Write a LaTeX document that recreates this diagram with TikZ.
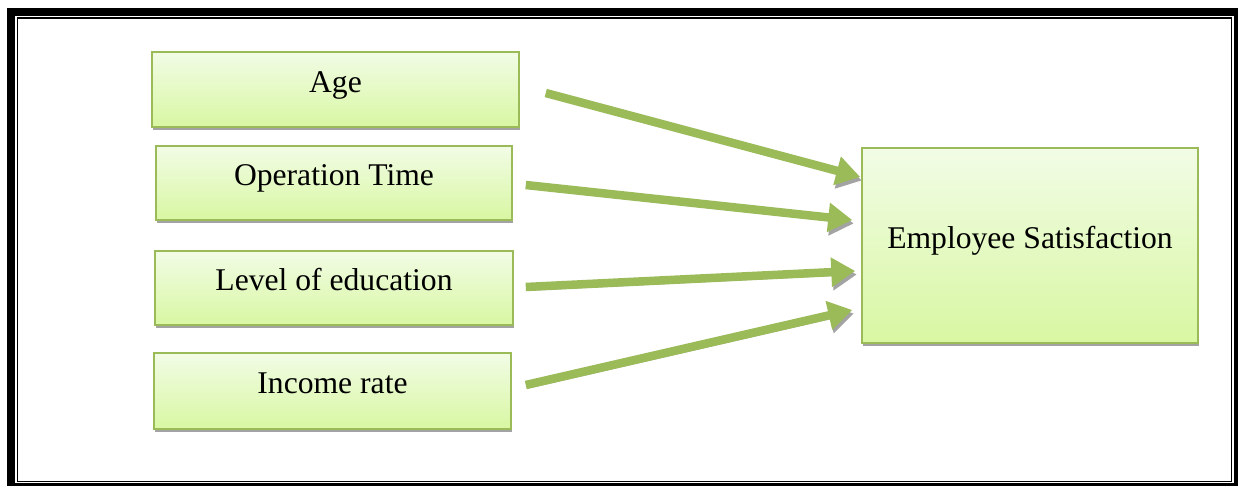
\documentclass[tikz,border=0pt]{standalone}
\usepackage{fontspec}
\setmainfont{Liberation Serif}
\usetikzlibrary{arrows.meta,shadows}

\definecolor{leafgreen}{HTML}{9BBB59}
\definecolor{boxtop}{HTML}{F2FCE6}
\definecolor{boxbot}{HTML}{D8F7A2}
\definecolor{shadowgrey}{HTML}{A3A3A3}

\tikzset{
  factorbox/.style={draw=leafgreen, line width=0.9pt, top color=boxtop, bottom color=boxbot,
    drop shadow={shadow xshift=0.02cm, shadow yshift=-0.06cm, fill=shadowgrey, opacity=1},
    font=\fontsize{18}{22}\selectfont, text height=0.44cm, text depth=0.32cm},
  bigarrow/.style={draw=leafgreen, line width=0.17cm,
    -{Triangle[length=0.48cm, width=0.56cm]},
    preaction={draw=shadowgrey, transform canvas={shift={(0.03cm,-0.07cm)}}}}
}

\begin{document}
\begin{tikzpicture}[x=0.02cm,y=-0.02cm]
    \useasboundingbox (0,0) rectangle (1238,486);

    % double frame round the page
    \draw[line width=0.16cm] (11,12) rectangle (1238,487);
    \draw[line width=0.03cm] (17.5,18) rectangle (1231.5,481.5);

    % the four factors on the left
    \node[factorbox, minimum width=7.34cm, minimum height=1.5cm] (age) at (335.5,89.5) {Age};
    \node[factorbox, minimum width=7.12cm, minimum height=1.48cm] (optime) at (334,183) {Operation Time};
    \node[factorbox, minimum width=7.16cm, minimum height=1.48cm] (edu) at (334,288) {Level of education};
    \node[factorbox, minimum width=7.14cm, minimum height=1.52cm] (income) at (332.5,391) {Income rate};

    % the outcome on the right
    \node[factorbox, minimum width=6.72cm, minimum height=3.9cm] (sat) at (1030,245.5) {Employee Satisfaction};

    % arrows from every factor to the outcome
    \foreach \src/\sx/\sy/\ex/\ey in {age/0.52/-0.07/-0.02/1.37, optime/0.26/-0.04/-0.18/0.51,
                                      edu/0.24/0.02/-0.12/-0.51, income/0.28/0.12/-0.18/-1.29} {
      \draw[bigarrow] ([xshift=\sx cm,yshift=\sy cm]\src.east) -- ([xshift=\ex cm,yshift=\ey cm]sat.west);
    }

\end{tikzpicture}
\end{document}
